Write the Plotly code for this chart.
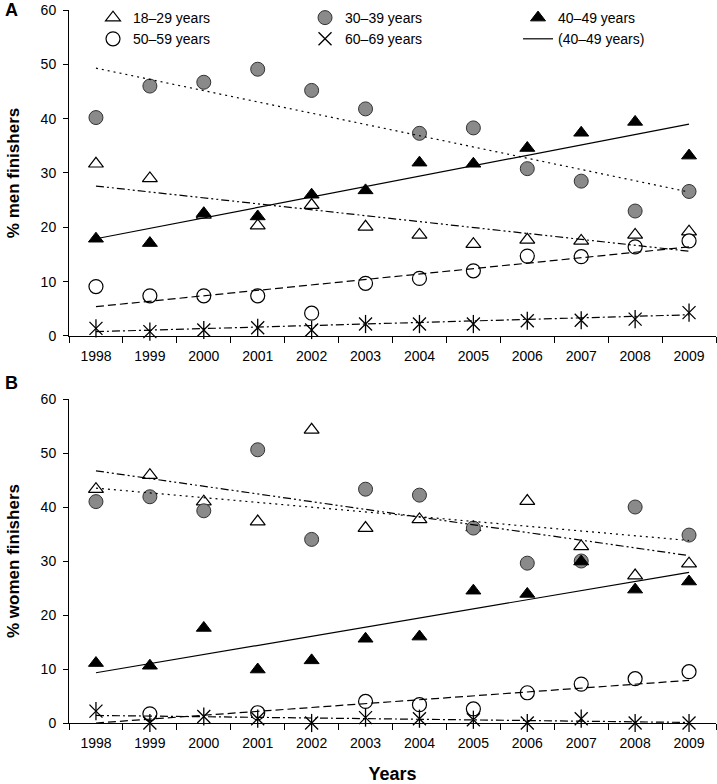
import plotly.graph_objects as go

years = ["1998", "1999", "2000", "2001", "2002", "2003", "2004", "2005", "2006", "2007", "2008", "2009"]
age_groups = ["18–29 years", "30–39 years", "40–49 years", "50–59 years", "60–69 years"]

# Panel A: % men finishers
men_18_29 = [31.7, 29.0, 22.3, 20.3, 24.1, 20.1, 18.6, 16.9, 17.7, 17.5, 18.6, 19.2]
men_30_39 = [40.2, 46.0, 46.7, 49.1, 45.2, 41.8, 37.3, 38.3, 30.8, 28.5, 23.0, 26.6]
men_40_49 = [17.9, 17.1, 22.6, 22.0, 26.0, 26.8, 31.9, 31.7, 34.6, 37.4, 39.4, 33.2]
men_50_59 = [9.1, 7.4, 7.4, 7.4, 4.2, 9.7, 10.6, 12.0, 14.7, 14.6, 16.4, 17.5]
men_60_69 = [1.4, 0.8, 1.1, 1.5, 1.1, 2.2, 2.2, 2.2, 2.8, 2.9, 3.1, 4.3]
men_trend_1998 = [27.6, 49.3, 17.9, 5.4, 0.8]
men_trend_2009 = [15.6, 26.5, 39.0, 16.4, 3.9]

# Panel B: % women finishers
women_18_29 = [43.3, 45.9, 41.0, 37.3, 54.3, 36.1, 37.7, 36.2, 41.1, 32.7, 27.3, 29.5]
women_30_39 = [41.0, 41.9, 39.3, 50.6, 34.0, 43.3, 42.2, 36.1, 29.6, 30.0, 40.0, 34.8]
women_40_49 = [11.1, 10.6, 17.6, 9.9, 11.6, 15.6, 16.0, 24.5, 23.9, 29.9, 24.7, 26.2]
women_50_59 = [None, 1.7, None, 1.9, None, 4.0, 3.4, 2.6, 5.6, 7.2, 8.2, 9.5]
women_60_69 = [2.2, 0.0, 1.2, 0.8, 0.0, 1.0, 0.8, 0.6, 0.0, 0.8, 0.0, 0.0]
women_trend_1998 = [46.7, 43.5, 9.3, 0.0, 1.4]
women_trend_2009 = [31.0, 33.8, 27.9, 7.9, 0.1]

y_ticks = [0, 10, 20, 30, 40, 50, 60]

FONT = "Liberation Sans, Arial, sans-serif"
marker_styles = [
    dict(symbol="triangle-up", size=13, color="white", line=dict(color="black", width=1.2)),
    dict(symbol="circle", size=14, color="#8a8a8a", line=dict(color="#333333", width=1)),
    dict(symbol="triangle-up", size=13, color="black", line=dict(color="black", width=1)),
    dict(symbol="circle", size=14, color="white", line=dict(color="black", width=1.2)),
    dict(symbol="x-thin-open", size=13, color="black", line=dict(color="black", width=1.3)),
]
trend_dashes = ["8px,3px,2px,3px,2px,3px", "2px,4px", "solid", "8px,4px", "8px,3px,2px,3px"]
# legend column of each age group (columns: 1 = left, 2 = middle, 3 = right)
legend_of = ["legend", "legend2", "legend3", "legend", "legend2"]

fig = go.Figure()

panels = [
    ("x", "y", [men_18_29, men_30_39, men_40_49, men_50_59, men_60_69], men_trend_1998, men_trend_2009),
    ("x2", "y2", [women_18_29, women_30_39, women_40_49, women_50_59, women_60_69], women_trend_1998, women_trend_2009),
]

for pi, (xa, ya, series, t0, t1) in enumerate(panels):
    for i, vals in enumerate(series):
        fig.add_trace(go.Scatter(
            x=years, y=vals, mode="markers", name=age_groups[i],
            marker=marker_styles[i], xaxis=xa, yaxis=ya, cliponaxis=False,
            showlegend=(pi == 0), legendgroup=age_groups[i], legend=legend_of[i],
        ))
        if i == 4:
            fig.add_trace(go.Scatter(
                x=years, y=vals, mode="markers", name=age_groups[i],
                marker=dict(symbol="line-ns-open", size=13, color="black",
                            line=dict(color="black", width=1.3)),
                xaxis=xa, yaxis=ya, cliponaxis=False, showlegend=False,
                legendgroup=age_groups[i], legend=legend_of[i],
            ))
    for i in range(5):
        fig.add_trace(go.Scatter(
            x=[years[0], years[-1]], y=[t0[i], t1[i]], mode="lines",
            name="(40–49 years)" if i == 2 else age_groups[i] + " trend",
            line=dict(color="black", width=1.2, dash=trend_dashes[i]),
            xaxis=xa, yaxis=ya, cliponaxis=False,
            showlegend=(pi == 0 and i == 2), legend="legend3",
        ))

xcommon = dict(
    type="category", categoryorder="array", categoryarray=years,
    range=[-0.5, 11.5], tickson="boundaries", ticks="outside", ticklen=6,
    tickcolor="black", showline=True, linecolor="black", linewidth=1,
    showgrid=False, zeroline=False, ticklabelstandoff=7,
    tickfont=dict(family=FONT, size=14, color="black"),
)
ycommon = dict(
    range=[0, 60], tickvals=y_ticks, ticks="outside", ticklen=5, tickcolor="black",
    showline=True, linecolor="black", linewidth=1, showgrid=False, zeroline=False,
    ticklabelstandoff=4,
    tickfont=dict(family=FONT, size=14, color="black"),
)

legend_common = dict(
    orientation="v", xanchor="left", y=1.0112, yanchor="top",
    traceorder="normal", bgcolor="rgba(0,0,0,0)",
    font=dict(family=FONT, size=14, color="black"), tracegroupgap=0,
    itemsizing="trace",
)

fig.update_layout(
    width=717, height=784,
    margin=dict(l=69, r=1, t=10, b=61),
    paper_bgcolor="white", plot_bgcolor="white",
    font=dict(family=FONT, size=14, color="black"),
    xaxis=dict(domain=[0, 1], anchor="y", **xcommon),
    yaxis=dict(domain=[0.5428, 1], anchor="x",
               title=dict(text="<b>% men finishers</b>", font=dict(size=17), standoff=16),
               **ycommon),
    xaxis2=dict(domain=[0, 1], anchor="y2",
                title=dict(text="<b>Years</b>", font=dict(size=18), standoff=17),
                **xcommon),
    yaxis2=dict(domain=[0, 0.4544], anchor="x2",
                title=dict(text="<b>% women finishers</b>", font=dict(size=17), standoff=16),
                **ycommon),
    legend=dict(x=0.0371, **legend_common),
    legend2=dict(x=0.3648, **legend_common),
    legend3=dict(x=0.694, **legend_common),
    showlegend=True,
    annotations=[
        dict(text="<b>A</b>", xref="paper", yref="paper", x=-0.102, y=1.0, xanchor="left",
             yanchor="middle", showarrow=False, font=dict(family=FONT, size=18, color="black")),
        dict(text="<b>B</b>", xref="paper", yref="paper", x=-0.102, y=0.4769, xanchor="left",
             yanchor="middle", showarrow=False, font=dict(family=FONT, size=18, color="black")),
    ],
)

fig.write_html("out.html", config={"displayModeBar": False},
               post_script="document.body.style.margin='0';")
